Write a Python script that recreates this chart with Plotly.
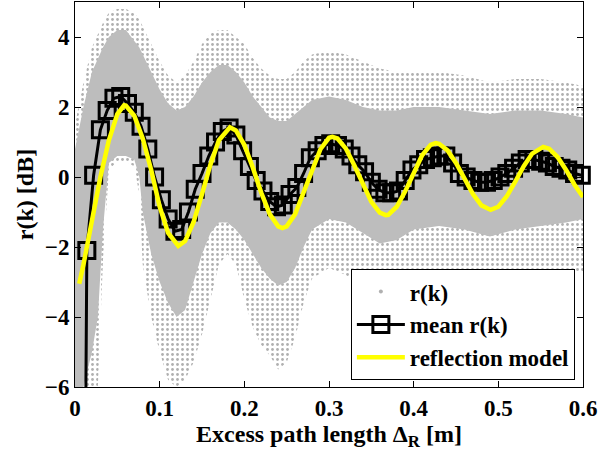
import plotly.graph_objects as go

# ---- data ----
# scatter cloud r(k): envelopes of the sparse and dense parts
cloud_x = [0.0, 0.01, 0.02, 0.027, 0.033, 0.04, 0.05, 0.06, 0.07, 0.076, 0.08, 0.09,
           0.10, 0.11, 0.12, 0.13, 0.14, 0.15, 0.16, 0.17, 0.18, 0.19, 0.20, 0.21,
           0.22, 0.23, 0.24, 0.25, 0.26, 0.27, 0.28, 0.30, 0.32, 0.34, 0.36, 0.38,
           0.40, 0.43, 0.46, 0.49, 0.52, 0.55, 0.58, 0.60]
sparse_hi = [1.5, 2.7, 3.7, 4.1, 4.4, 4.7, 4.8, 4.8, 4.7, 4.5, 4.3, 3.8,
             3.3, 2.9, 2.7, 2.9, 3.3, 3.8, 4.1, 4.2, 4.2, 4.0, 3.8, 3.4,
             3.1, 2.9, 2.8, 2.8, 3.0, 3.3, 3.5, 3.6, 3.5, 3.3, 3.1, 3.0,
             3.0, 3.0, 2.9, 2.7, 2.8, 2.8, 2.7, 2.6]
sparse_lo = [-6.0, -6.0, -6.0, -6.0, -2.4, 0.2, 0.45, 0.45, 0.3, -0.5, -2.5, -4.0,
             -5.0, -5.8, -6.0, -5.8, -5.3, -4.5, -3.5, -2.5, -2.2, -2.5, -3.5, -4.3,
             -4.8, -5.1, -5.5, -5.3, -4.6, -3.6, -2.9, -2.6, -2.8, -3.3, -3.6, -3.5,
             -3.0, -2.7, -2.9, -3.1, -2.9, -2.7, -2.7, -2.7]
dense_hi = [0.8, 2.0, 3.0, 3.4, 3.7, 4.0, 4.2, 4.2, 3.9, 3.7, 3.5, 3.0,
            2.5, 2.1, 1.9, 2.0, 2.3, 2.7, 3.0, 3.2, 3.2, 3.0, 2.7, 2.3,
            2.0, 1.7, 1.6, 1.6, 1.8, 2.0, 2.2, 2.3, 2.2, 2.0, 1.9, 1.9,
            2.0, 2.0, 1.9, 1.8, 1.9, 1.9, 1.8, 1.7]
dense_lo = [-6.0, -6.0, -5.0, -4.0, -1.5, 0.4, 0.6, 0.6, 0.5, 0.0, -1.0, -2.2,
            -3.0, -3.6, -4.0, -3.8, -3.0, -2.2, -1.6, -1.3, -1.3, -1.5, -1.8, -2.2,
            -2.6, -2.9, -3.1, -3.0, -2.6, -2.0, -1.5, -1.2, -1.3, -1.6, -1.9, -1.8,
            -1.5, -1.4, -1.5, -1.7, -1.5, -1.4, -1.3, -1.2]

# mean r(k)
mean_x = [0.006, 0.014, 0.022, 0.030, 0.038, 0.046, 0.054, 0.062, 0.070, 0.078,
          0.086, 0.094, 0.102, 0.110, 0.118, 0.126, 0.134, 0.142, 0.150, 0.158,
          0.166, 0.174, 0.182, 0.190, 0.198, 0.206, 0.214, 0.222, 0.230, 0.238,
          0.246, 0.254, 0.262, 0.270, 0.278, 0.286, 0.294, 0.302, 0.310, 0.318,
          0.326, 0.334, 0.342, 0.350, 0.358, 0.366, 0.374, 0.382, 0.390, 0.398,
          0.406, 0.414, 0.422, 0.430, 0.438, 0.446, 0.454, 0.462, 0.470, 0.478,
          0.486, 0.494, 0.502, 0.510, 0.518, 0.526, 0.534, 0.542, 0.550, 0.558,
          0.566, 0.574, 0.582, 0.590, 0.598]
mean_y = [-30.0, -2.1, 0.05, 1.35, 1.9, 2.25, 2.3, 2.1, 1.85, 1.45,
          0.8, 0.0, -0.65, -1.2, -1.55, -1.5, -1.0, -0.35, 0.1, 0.6,
          1.0, 1.3, 1.4, 1.2, 0.75, 0.3, -0.1, -0.4, -0.7, -0.85,
          -0.8, -0.5, -0.3, 0.1, 0.55, 0.75, 0.9, 0.95, 0.9, 0.8,
          0.6, 0.35, 0.15, -0.15, -0.35, -0.45, -0.45, -0.4, -0.1, 0.2,
          0.35, 0.5, 0.55, 0.6, 0.6, 0.4, 0.1, 0.0, -0.1, -0.15,
          -0.15, -0.1, 0.0, 0.1, 0.25, 0.4, 0.5, 0.5, 0.45, 0.4,
          0.3, 0.25, 0.2, 0.1, 0.05]

# reflection model
model_x = [0.005, 0.01, 0.02, 0.03, 0.04, 0.05, 0.058, 0.06, 0.07, 0.08, 0.09, 0.10,
           0.11, 0.122, 0.13, 0.14, 0.15, 0.16, 0.17, 0.183, 0.19, 0.20, 0.21,
           0.22, 0.23, 0.24, 0.245, 0.25, 0.26, 0.27, 0.28, 0.29, 0.30, 0.304,
           0.31, 0.32, 0.33, 0.34, 0.35, 0.36, 0.367, 0.37, 0.38, 0.39, 0.40,
           0.41, 0.42, 0.426, 0.43, 0.44, 0.45, 0.46, 0.47, 0.48, 0.491, 0.50,
           0.51, 0.52, 0.53, 0.54, 0.553, 0.56, 0.57, 0.58, 0.59, 0.60]
model_y = [-3.05, -2.5, -1.25, 0.0, 1.05, 1.8, 2.05, 2.04, 1.75, 1.1, 0.2, -0.85,
           -1.6, -1.97, -1.83, -1.29, -0.49, 0.36, 1.05, 1.42, 1.33, 0.92, 0.27,
           -0.45, -1.06, -1.41, -1.46, -1.41, -1.06, -0.46, 0.22, 0.80, 1.12, 1.15,
           1.10, 0.81, 0.33, -0.22, -0.71, -1.02, -1.09, -1.08, -0.85, -0.41, 0.13,
           0.62, 0.92, 0.97, 0.95, 0.76, 0.40, -0.05, -0.49, -0.81, -0.94, -0.85,
           -0.55, -0.13, 0.31, 0.67, 0.86, 0.81, 0.57, 0.20, -0.22, -0.57]

y_ticks = [-6, -4, -2, 0, 2, 4]
x_ticks = [0, 0.1, 0.2, 0.3, 0.4, 0.5, 0.6]
x_tick_text = ["0", "0.1", "0.2", "0.3", "0.4", "0.5", "0.6"]

FONT = "'Liberation Serif', 'Times New Roman', Times, serif"
DOT = "#b0b0b0"

fig = go.Figure()

# sparse part of the r(k) cloud
fig.add_trace(go.Scatter(
    x=cloud_x + cloud_x[::-1], y=sparse_hi + sparse_lo[::-1],
    mode="lines", line=dict(width=0), fill="toself",
    fillcolor="rgba(0,0,0,0)",
    fillpattern=dict(shape=".", size=5, solidity=0.25, fgcolor=DOT, fillmode="replace"),
    showlegend=False, hoverinfo="skip"))
# dense part of the r(k) cloud
fig.add_trace(go.Scatter(
    x=cloud_x + cloud_x[::-1], y=dense_hi + dense_lo[::-1],
    mode="lines", line=dict(width=0), fill="toself",
    fillcolor="#bdbdbd",
    showlegend=False, hoverinfo="skip"))
# legend entry for r(k)
fig.add_trace(go.Scatter(
    x=[None], y=[None], mode="markers", name="r(k)",
    marker=dict(color=DOT, size=4, symbol="circle")))

fig.add_trace(go.Scatter(
    x=mean_x, y=mean_y, mode="lines+markers", name="mean r(k)",
    line=dict(color="black", width=3),
    marker=dict(symbol="square-open", size=16, color="black", line=dict(width=3)),
    cliponaxis=False))

fig.add_trace(go.Scatter(
    x=model_x, y=model_y, mode="lines", name="reflection model",
    line=dict(color="#ffff00", width=4.5)))

axis_common = dict(
    showline=True, linecolor="black", linewidth=1, mirror="allticks",
    ticks="inside", ticklen=6, tickcolor="black", showgrid=False, zeroline=False,
    tickfont=dict(family=FONT, size=23, color="black", weight="bold"),
)

fig.update_layout(
    width=616, height=456,
    margin=dict(l=75, r=33, t=2, b=69),
    paper_bgcolor="white", plot_bgcolor="white",
    xaxis=dict(range=[0, 0.6], tickvals=x_ticks, ticktext=x_tick_text,
               title=dict(text="Excess path length Δ<sub>R</sub> [m]", standoff=0,
                          font=dict(family=FONT, size=24, color="black", weight="bold")),
               **axis_common),
    yaxis=dict(range=[-6, 5], tickvals=y_ticks,
               title=dict(text="r(k) [dB]", standoff=4,
                          font=dict(family=FONT, size=24, color="black", weight="bold")),
               **axis_common),
    legend=dict(x=0.984, y=0.018, xanchor="right", yanchor="bottom",
                bgcolor="white", bordercolor="black", borderwidth=1,
                font=dict(family=FONT, size=23, color="black", weight="bold"),
                tracegroupgap=0, itemwidth=48),
)

fig.write_html("out.html")
